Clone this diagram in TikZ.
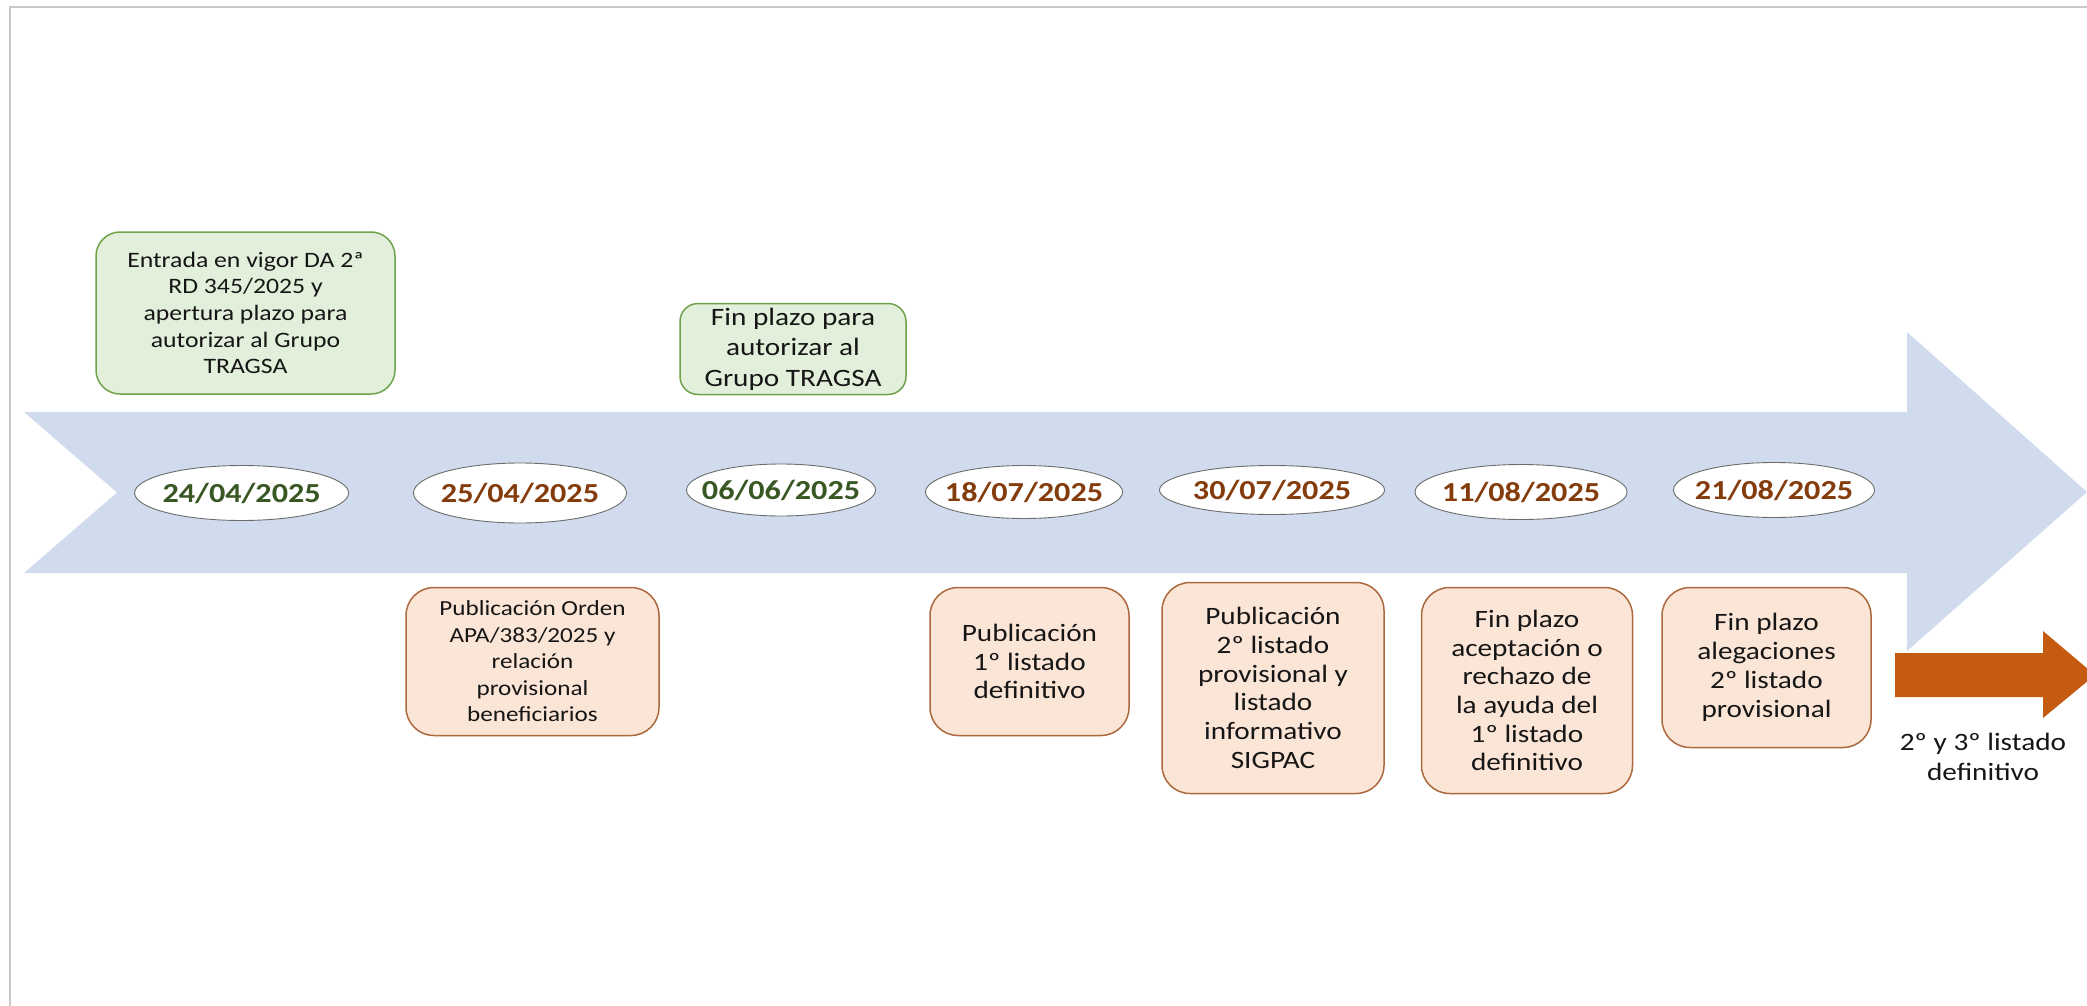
\documentclass[tikz,border=0pt]{standalone}
\usepackage{fontspec}
\setmainfont[FakeStretch=1.17]{Carlito}
\usetikzlibrary{shapes.geometric}
\definecolor{bluearrow}{RGB}{208,220,238}
\definecolor{greenfill}{RGB}{226,239,218}
\definecolor{greenline}{RGB}{110,163,76}
\definecolor{orangefill}{RGB}{251,229,214}
\definecolor{orangeline}{RGB}{172,104,62}
\definecolor{orangearrow}{RGB}{197,90,17}
\definecolor{dategreen}{RGB}{56,87,35}
\definecolor{datebrown}{RGB}{132,60,12}
\definecolor{txt}{RGB}{22,22,22}
\definecolor{frame}{RGB}{200,200,200}
\tikzset{
  gbox/.style={draw=greenline, fill=greenfill, line width=1.5pt, rounded corners=24pt,
    inner sep=0pt, align=center, text=txt},
  obox/.style={draw=orangeline, fill=orangefill, line width=1.5pt, rounded corners=28pt,
    inner sep=0pt, align=center, text=txt},
  dateell/.style={ellipse, draw=gray!85!black, fill=white, line width=0.9pt, inner sep=0pt},
  datetxt/.style={inner sep=0pt, font=\fontsize{27.5}{30}\selectfont\bfseries},
}
\begin{document}
\begin{tikzpicture}[x=1pt,y=-1pt]
\useasboundingbox (0,0) rectangle (2087,1006);
\fill[white] (0,0) rectangle (2087,1006);
% frame
\draw[frame, line width=2pt] (10,1006) -- (10,7) -- (2087,7);
% big blue arrow
\fill[bluearrow] (24,412) -- (1907,412) -- (1907,332) -- (2087,492) -- (1907,651)
  -- (1907,573) -- (24,573) -- (117,492.5) -- cycle;
% orange arrow
\fill[orangearrow] (1895,653) -- (2043,653) -- (2043,631) -- (2095,675) -- (2043,718)
  -- (2043,697) -- (1895,697) -- cycle;
\node[text=txt, align=center, font=\fontsize{25}{30}\selectfont] (next) at (1983,757)
  {2º y 3º listado\\definitivo};
% green boxes
\node[gbox, minimum width=299pt, minimum height=162pt, font=\fontsize{22}{26.7}\selectfont]
  (g1) at (245.5,313) {Entrada en vigor DA 2ª\\RD 345/2025 y\\apertura plazo para\\autorizar al Grupo\\TRAGSA};
\node[gbox, rounded corners=18pt, minimum width=226pt, minimum height=91pt, font=\fontsize{25}{30.5}\selectfont]
  (g2) at (793,349) {Fin plazo para\\autorizar al\\Grupo TRAGSA};
% dates
\node[dateell, minimum width=214pt, minimum height=55pt,
  label={[datetxt, text=dategreen]center:24/04/2025}] (d1) at (241.6,493) {};
\node[dateell, minimum width=213pt, minimum height=60pt,
  label={[datetxt, text=datebrown]center:25/04/2025}] (d2) at (520,493) {};
\node[dateell, minimum width=189pt, minimum height=52pt,
  label={[datetxt, text=dategreen]center:06/06/2025}] (d3) at (781,490) {};
\node[dateell, minimum width=197pt, minimum height=53pt,
  label={[datetxt, text=datebrown]center:18/07/2025}] (d4) at (1024,492) {};
\node[dateell, minimum width=225pt, minimum height=49pt,
  label={[datetxt, text=datebrown]center:30/07/2025}] (d5) at (1272,490) {};
\node[dateell, minimum width=212pt, minimum height=55pt,
  label={[datetxt, text=datebrown]center:11/08/2025}] (d6) at (1521,492) {};
\node[dateell, minimum width=201pt, minimum height=55pt,
  label={[datetxt, text=datebrown]center:21/08/2025}] (d7) at (1774,490) {};
% orange boxes
\node[obox, minimum width=253pt, minimum height=148pt, font=\fontsize{21.5}{26.5}\selectfont]
  (o1) at (532.5,661.5) {Publicación Orden\\APA/383/2025 y\\relación\\provisional\\beneficiarios};
\node[obox, minimum width=199pt, minimum height=148pt, font=\fontsize{25}{28.5}\selectfont]
  (o2) at (1029.5,661.5) {Publicación\\1º listado\\definitivo};
\node[obox, minimum width=222pt, minimum height=211pt, font=\fontsize{25}{28.7}\selectfont]
  (o3) at (1273,688) {Publicación\\2º listado\\provisional y\\listado\\informativo\\SIGPAC};
\node[obox, minimum width=211pt, minimum height=206pt, font=\fontsize{25}{28.7}\selectfont]
  (o4) at (1527,690.5) {Fin plazo\\aceptación o\\rechazo de\\la ayuda del\\1º listado\\definitivo};
\node[obox, minimum width=209pt, minimum height=160pt, font=\fontsize{25}{29}\selectfont]
  (o5) at (1766.5,667.5) {Fin plazo\\alegaciones\\2º listado\\provisional};
\end{tikzpicture}
\end{document}
